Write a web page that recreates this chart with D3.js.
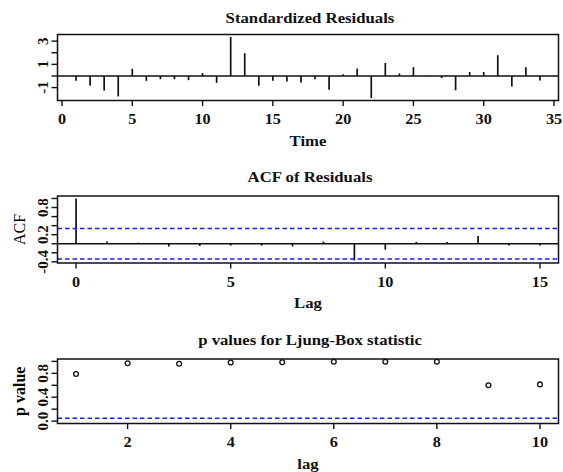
<!DOCTYPE html>
<html>
<head>
<meta charset="utf-8">
<script src="https://cdn.jsdelivr.net/npm/d3@7"></script>
<style>
  body { margin: 0; background: #fff; }
  svg { display: block; }
  text { font-family: "Liberation Serif", "Times New Roman", serif; fill: #111; }
</style>
</head>
<body>
<div id="chart"></div>
<script>
// time index and standardized residuals
var residTime = [1,2,3,4,5,6,7,8,9,10,11,12,13,14,15,16,17,18,19,20,21,22,23,24,25,26,27,28,29,30,31,32,33,34];
var stdResiduals = [-0.42,-0.84,-1.26,-1.76,0.62,-0.42,-0.28,-0.28,-0.36,0.25,-0.59,3.36,1.96,-0.84,-0.42,-0.48,
                    -0.56,-0.28,-1.18,0.14,0.64,-1.9,1.12,0.22,0.76,0.03,-0.17,-1.23,0.34,0.34,1.79,-0.9,0.76,-0.39];

// ACF of residuals
var acfLags = [0,1,2,3,4,5,6,7,8,9,10,11,12,13,14,15];
var acfValues = [1,0.05,0.02,-0.06,-0.05,-0.04,-0.04,-0.06,0.05,-0.37,-0.13,0.04,0.04,0.17,-0.04,-0.04];
var acfLimit = 0.336;

// Ljung-Box p values
var lbLags = [1,2,3,4,5,6,7,8,9,10];
var lbPValues = [0.79,0.97,0.96,0.98,0.985,0.995,0.995,0.995,0.60,0.615];
var lbLevel = 0.05;

// tick values
var residXTicks = [0,5,10,15,20,25,30,35];
var residYTicks = [-1,0,1,2,3];
var residYLabels = [-1,1,3];
var acfXTicks = [0,5,10,15];
var acfYTicks = [-0.4,-0.2,0,0.2,0.4,0.6,0.8,1.0];
var acfYLabels = [-0.4,0.2,0.8];
var lbXTicks = [2,4,6,8,10];
var lbYTicks = [0,0.2,0.4,0.6,0.8,1.0];
var lbYLabels = [0,0.4,0.8];

var W = 563, H = 472;
var svg = d3.select('#chart').append('svg').attr('width', W).attr('height', H);
svg.append('rect').attr('width', W).attr('height', H).attr('fill', '#fff');

var plotLeft = 57.5, plotRight = 558.5;
var ink = '#111';
var stretch = 1.08;   // the reference text is a bit wider than plain Times

// R style 4% padding of a range
function pad(ext) {
  var d = (ext[1] - ext[0]) * 0.04;
  return [ext[0] - d, ext[1] + d];
}

function hText(g, x, y, size, txt) {
  return g.append('text')
    .attr('transform', 'translate(' + x + ',' + y + ') scale(' + stretch + ',1)')
    .attr('text-anchor', 'middle').attr('font-size', size).attr('font-weight', 'bold')
    .text(txt);
}

function panel(opt) {
  var g = svg.append('g');
  var x = d3.scaleLinear().domain(pad(opt.xRange)).range([plotLeft, plotRight]);
  var y = d3.scaleLinear().domain(pad(opt.yRange)).range([opt.bottom, opt.top]);

  // x ticks
  g.selectAll('.xt').data(opt.xTicks).enter().append('line')
    .attr('x1', function(d){ return x(d); }).attr('x2', function(d){ return x(d); })
    .attr('y1', opt.bottom).attr('y2', opt.bottom + 5.5)
    .attr('stroke', ink).attr('stroke-width', 1.4);
  opt.xTicks.forEach(function(d){ hText(g, x(d), opt.bottom + 23.5, 15, d); });

  // y ticks
  g.selectAll('.yt').data(opt.yTicks).enter().append('line')
    .attr('x1', plotLeft).attr('x2', plotLeft - 6)
    .attr('y1', function(d){ return y(d); }).attr('y2', function(d){ return y(d); })
    .attr('stroke', ink).attr('stroke-width', 1.4);
  g.selectAll('.yl').data(opt.yLabels).enter().append('text')
    .attr('transform', function(d){ return 'translate(' + (plotLeft - 10) + ',' + y(d) + ') rotate(-90)'; })
    .attr('text-anchor', 'middle').attr('font-size', 15).attr('font-weight', 'bold')
    .text(opt.yFormat);

  // title and axis labels
  hText(g, (plotLeft + plotRight) / 2 + 2, opt.top - opt.titleGap, 15.5, opt.title);
  hText(g, (plotLeft + plotRight) / 2, opt.bottom + 45, 15.5, opt.xLabel);
  if (opt.yLabel) {
    g.append('text')
      .attr('transform', 'translate(25,' + ((opt.top + opt.bottom) / 2) + ') rotate(-90)')
      .attr('text-anchor', 'middle').attr('font-size', 16)
      .attr('font-weight', opt.yLabelBold ? 'bold' : 'normal')
      .style('fill', '#000')
      .text(opt.yLabel);
  }

  g.x = x; g.y = y;
  return g;
}

function frame(g, opt) {
  g.append('rect').attr('x', plotLeft).attr('y', opt.top)
    .attr('width', plotRight - plotLeft).attr('height', opt.bottom - opt.top)
    .attr('fill', 'none').attr('stroke', ink).attr('stroke-width', 1.5);
}

////////////////////////////////////////////////////////////////////////
// panel 1 : standardized residuals
var p1opt = {
  top: 34.5, bottom: 100.5, titleGap: 12,
  xRange: d3.extent(residTime), yRange: d3.extent(stdResiduals),
  xTicks: residXTicks, yTicks: residYTicks, yLabels: residYLabels,
  yFormat: function(d){ return d; },
  title: 'Standardized Residuals', xLabel: 'Time'
};
var p1 = panel(p1opt);
p1.append('line').attr('x1', plotLeft).attr('x2', plotRight)
  .attr('y1', p1.y(0)).attr('y2', p1.y(0)).attr('stroke', ink).attr('stroke-width', 1.4);
p1.selectAll('.bar').data(residTime).enter().append('line')
  .attr('x1', function(d){ return p1.x(d); }).attr('x2', function(d){ return p1.x(d); })
  .attr('y1', p1.y(0)).attr('y2', function(d, i){ return p1.y(stdResiduals[i]); })
  .attr('stroke', ink).attr('stroke-width', 1.7);
frame(p1, p1opt);

////////////////////////////////////////////////////////////////////////
// panel 2 : ACF of residuals
var acfMin = Math.min(d3.min(acfValues), -acfLimit), acfMax = Math.max(d3.max(acfValues), acfLimit);
var p2opt = {
  top: 196, bottom: 263, titleGap: 14.5,
  xRange: d3.extent(acfLags), yRange: [acfMin, acfMax],
  xTicks: acfXTicks, yTicks: acfYTicks, yLabels: acfYLabels,
  yFormat: function(d){ return d.toFixed(1); },
  title: 'ACF of Residuals', xLabel: 'Lag', yLabel: 'ACF', yLabelBold: false
};
var p2 = panel(p2opt);
p2.append('line').attr('x1', plotLeft).attr('x2', plotRight)
  .attr('y1', p2.y(0)).attr('y2', p2.y(0)).attr('stroke', ink).attr('stroke-width', 1.5);
p2.selectAll('.bar').data(acfLags).enter().append('line')
  .attr('x1', function(d){ return p2.x(d); }).attr('x2', function(d){ return p2.x(d); })
  .attr('y1', p2.y(0)).attr('y2', function(d, i){ return p2.y(acfValues[i]); })
  .attr('stroke', ink).attr('stroke-width', 1.7);
p2.selectAll('.clim').data([acfLimit, -acfLimit]).enter().append('line')
  .attr('x1', plotLeft).attr('x2', plotRight)
  .attr('y1', function(d){ return p2.y(d); }).attr('y2', function(d){ return p2.y(d); })
  .attr('stroke', '#1a1aff').attr('stroke-width', 1.5).attr('stroke-dasharray', '4.5,3');
frame(p2, p2opt);

////////////////////////////////////////////////////////////////////////
// panel 3 : p values for Ljung-Box statistic
var p3opt = {
  top: 359, bottom: 423.5, titleGap: 14,
  xRange: d3.extent(lbLags), yRange: [0, 1],
  xTicks: lbXTicks, yTicks: lbYTicks, yLabels: lbYLabels,
  yFormat: function(d){ return d.toFixed(1); },
  title: 'p values for Ljung-Box statistic', xLabel: 'lag', yLabel: 'p value', yLabelBold: true
};
var p3 = panel(p3opt);
p3.append('line').attr('x1', plotLeft).attr('x2', plotRight)
  .attr('y1', p3.y(lbLevel)).attr('y2', p3.y(lbLevel))
  .attr('stroke', '#1a1aff').attr('stroke-width', 1.5).attr('stroke-dasharray', '4.5,3');
p3.selectAll('.pt').data(lbLags).enter().append('circle')
  .attr('cx', function(d){ return p3.x(d); })
  .attr('cy', function(d, i){ return p3.y(lbPValues[i]); })
  .attr('r', 2.4).attr('fill', 'none').attr('stroke', ink).attr('stroke-width', 1.3);
frame(p3, p3opt);
</script>
</body>
</html>
